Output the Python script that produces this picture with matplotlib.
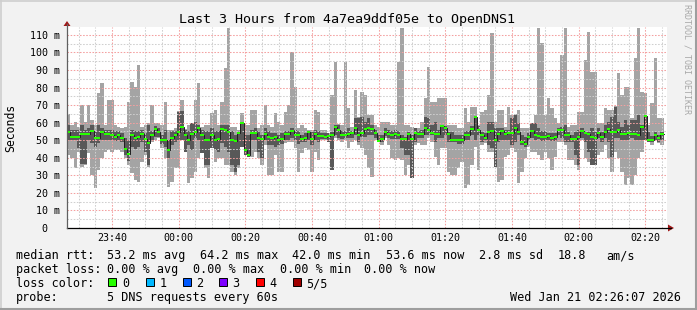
import numpy as np
import matplotlib.pyplot as plt
from matplotlib.patches import Rectangle, Polygon
from matplotlib.lines import Line2D

plt.rcParams['font.family'] = ['DejaVu Sans Mono']

# minutes relative to 00:00, first 60s step of the 3 hour window
t_start = -33.5

# five sorted pings per step (ms): min, 2nd, median, 4th, max
rtt_min = [
    41.6, 39.7, 34.0, 43.5, 35.0, 35.9, 42.5, 30.2, 22.6, 33.0,
    39.7, 43.5, 44.4, 43.5, 44.4, 44.4, 43.5, 39.7, 35.9, 31.1,
    27.4, 26.4, 37.8, 41.6, 34.9, 49.2, 50.1, 51.1, 45.4, 39.7,
    23.6, 26.4, 34.0, 34.0, 50.1, 43.5, 25.5, 28.3, 32.1, 39.7,
    42.5, 34.0, 28.3, 45.4, 37.8, 39.7, 39.7, 35.9, 35.9, 32.1,
    30.2, 34.0, 46.3, 41.6, 40.6, 40.6, 43.5, 39.7, 35.9, 47.3,
    30.2, 30.2, 41.6, 32.1, 32.1, 48.2, 49.2, 49.2, 45.4, 32.1,
    42.5, 45.4, 44.4, 32.1, 43.5, 38.7, 50.1, 50.1, 49.2, 33.0,
    51.1, 50.1, 49.2, 50.1, 45.4, 49.2, 50.1, 47.3, 45.4, 41.6,
    34.0, 29.2, 50.1, 49.2, 47.3, 51.1, 47.3, 39.7, 38.7, 39.7,
    38.7, 30.2, 35.9, 28.3, 47.3, 48.2, 47.3, 47.3, 51.1, 49.2,
    40.6, 35.9, 45.4, 45.4, 32.1, 30.2, 30.2, 34.0, 37.8, 22.6,
    24.5, 35.9, 46.3, 33.0, 47.3, 48.2, 43.5, 43.5, 34.9, 26.4,
    27.4, 40.6, 41.6, 45.4, 43.5, 25.5, 32.1, 39.7, 46.3, 43.5,
    43.5, 41.6, 38.7, 43.5, 39.7, 33.0, 40.6, 49.2, 49.2, 47.3,
    38.7, 38.7, 35.9, 33.0, 50.1, 39.7, 37.8, 35.9, 35.9, 41.6,
    43.5, 47.3, 39.7, 32.1, 43.5, 39.7, 32.1, 24.5, 28.3, 24.5,
    30.2, 39.7, 43.5, 50.1, 49.2, 47.3, 50.1, 48.2, 47.3,
]
rtt_lo = [
    50.0, 50.0, 50.0, 45.4, 36.5, 36.5, 50.0, 48.2, 46.0, 48.2,
    50.0, 50.0, 50.0, 50.0, 49.5, 50.0, 49.0, 41.6, 38.2, 46.0,
    45.0, 46.0, 49.0, 43.5, 35.9, 50.1, 52.0, 52.0, 48.0, 46.0,
    40.0, 47.3, 49.0, 50.1, 50.1, 43.5, 47.0, 44.4, 51.1, 50.1,
    42.5, 35.9, 35.9, 45.4, 44.4, 43.5, 48.2, 46.3, 43.5, 35.9,
    32.1, 35.9, 46.3, 41.6, 40.6, 50.0, 50.0, 43.5, 39.7, 50.0,
    47.3, 47.3, 46.3, 47.3, 48.0, 50.1, 50.1, 51.1, 50.1, 48.0,
    49.2, 49.0, 50.0, 47.3, 50.0, 49.0, 50.5, 50.5, 49.2, 33.0,
    53.0, 51.1, 50.5, 51.0, 51.1, 51.5, 53.0, 49.2, 52.0, 52.0,
    53.0, 53.0, 51.5, 49.2, 49.0, 52.5, 51.0, 50.5, 50.5, 50.5,
    45.4, 41.6, 41.6, 28.3, 49.2, 51.0, 51.0, 53.0, 53.0, 53.0,
    49.2, 51.5, 51.1, 53.0, 49.2, 49.2, 49.2, 48.0, 48.0, 50.0,
    50.0, 53.0, 50.1, 53.0, 49.2, 50.0, 47.3, 45.4, 34.9, 49.2,
    50.0, 50.0, 50.0, 47.3, 49.2, 53.0, 47.0, 46.0, 49.5, 51.1,
    50.1, 50.5, 49.5, 49.5, 50.1, 49.5, 49.5, 53.0, 51.1, 49.2,
    49.2, 49.2, 41.6, 35.9, 51.1, 49.2, 43.5, 35.9, 35.9, 51.1,
    49.2, 51.1, 49.2, 40.6, 51.1, 51.1, 50.1, 50.1, 50.1, 51.1,
    50.1, 50.1, 50.1, 50.1, 49.2, 49.2, 50.1, 49.2, 50.1,
]
rtt_median = [
    54.9, 52.0, 52.0, 51.9, 53.8, 53.8, 53.8, 55.3, 51.1, 51.5,
    54.9, 53.4, 53.4, 53.0, 52.0, 53.0, 51.5, 45.0, 42.4, 53.0,
    51.1, 51.9, 53.8, 50.7, 48.4, 53.0, 56.4, 54.5, 50.1, 50.1,
    44.6, 51.5, 53.0, 54.9, 57.7, 53.0, 50.3, 53.8, 54.5, 56.8,
    53.0, 50.3, 50.3, 53.0, 50.3, 50.9, 56.6, 56.0, 54.9, 50.3,
    49.6, 54.1, 60.0, 44.4, 41.6, 53.9, 54.1, 51.1, 50.7, 53.8,
    51.9, 51.5, 51.9, 50.1, 50.7, 53.8, 53.8, 55.3, 53.0, 53.0,
    50.7, 51.5, 54.9, 50.7, 53.8, 52.6, 52.6, 51.9, 52.6, 53.0,
    57.5, 56.0, 53.0, 53.0, 53.8, 54.1, 57.2, 53.0, 53.9, 56.2,
    56.8, 56.4, 53.9, 49.6, 50.7, 54.9, 53.8, 53.0, 53.4, 53.0,
    50.7, 50.5, 53.8, 50.7, 54.1, 53.8, 53.8, 57.2, 56.0, 54.1,
    53.8, 53.8, 58.3, 56.8, 53.8, 50.3, 50.3, 50.3, 50.3, 53.0,
    53.0, 56.4, 63.1, 56.0, 53.0, 51.5, 54.9, 55.3, 50.3, 53.8,
    55.3, 53.8, 53.9, 54.1, 57.0, 54.5, 49.2, 48.1, 51.7, 55.3,
    53.0, 52.6, 51.9, 51.9, 52.6, 51.5, 51.9, 55.6, 55.6, 53.0,
    53.0, 50.7, 50.7, 52.0, 55.3, 54.1, 53.8, 51.9, 51.5, 54.1,
    51.9, 54.9, 56.4, 54.5, 54.9, 55.6, 53.8, 53.4, 54.1, 53.4,
    53.8, 53.0, 57.5, 64.0, 50.1, 50.1, 53.0, 51.1, 53.8,
]
rtt_hi = [
    58.7, 56.0, 56.0, 56.0, 58.7, 56.0, 57.0, 58.7, 55.0, 58.7,
    57.0, 56.0, 56.0, 56.0, 55.0, 55.0, 54.0, 51.1, 50.0, 56.0,
    55.0, 55.0, 56.0, 54.0, 58.7, 55.0, 58.0, 57.0, 53.0, 56.0,
    50.0, 55.0, 55.5, 66.0, 66.7, 55.8, 55.0, 59.6, 60.6, 58.7,
    55.8, 55.0, 55.0, 56.8, 55.0, 55.0, 58.7, 58.7, 58.7, 55.0,
    53.0, 54.9, 60.6, 53.0, 53.0, 55.8, 57.0, 55.0, 53.0, 57.0,
    55.0, 54.0, 54.0, 53.0, 54.0, 55.0, 55.0, 56.8, 55.8, 55.0,
    53.0, 54.0, 55.5, 54.9, 56.0, 55.0, 54.0, 54.0, 53.9, 54.9,
    58.7, 58.7, 55.0, 55.0, 56.8, 55.5, 62.5, 62.5, 63.4, 60.6,
    62.5, 58.7, 55.8, 53.0, 53.0, 57.0, 56.0, 55.5, 56.0, 55.5,
    53.0, 52.0, 54.9, 53.0, 56.8, 55.5, 56.0, 63.4, 62.5, 58.7,
    60.6, 55.8, 58.7, 58.0, 54.9, 54.9, 53.0, 53.0, 53.0, 55.0,
    55.0, 58.0, 63.4, 58.0, 54.9, 54.0, 60.6, 60.6, 56.8, 56.8,
    57.0, 56.0, 56.0, 62.5, 64.4, 59.6, 53.0, 52.0, 54.0, 59.6,
    59.6, 56.8, 55.0, 55.0, 53.9, 54.0, 54.0, 56.8, 57.7, 58.7,
    54.9, 53.0, 54.9, 55.8, 56.8, 54.9, 54.9, 56.8, 54.9, 56.8,
    54.9, 58.7, 60.6, 63.4, 69.1, 60.6, 57.7, 61.5, 58.7, 61.5,
    61.5, 64.4, 58.7, 64.4, 54.9, 52.6, 54.9, 53.0, 54.9,
]
rtt_max = [
    64.8, 58.7, 60.6, 57.7, 70.1, 60.6, 70.1, 61.5, 58.7, 76.7,
    82.4, 58.7, 72.9, 72.9, 58.7, 57.7, 56.8, 57.7, 72.0, 83.4,
    80.5, 92.9, 57.7, 58.7, 59.6, 70.1, 59.6, 59.6, 58.7, 72.0,
    55.8, 55.8, 56.8, 66.7, 72.9, 56.5, 58.7, 60.0, 72.9, 82.4,
    57.7, 58.7, 58.7, 65.3, 67.2, 58.7, 72.0, 91.0, 113.8, 57.7,
    57.7, 55.8, 65.3, 58.7, 58.7, 67.2, 67.2, 56.8, 58.7, 70.1,
    58.7, 57.7, 65.3, 60.6, 58.7, 66.3, 70.1, 100.5, 80.5, 56.8,
    58.7, 56.8, 55.8, 55.8, 67.2, 66.3, 55.8, 55.8, 54.2, 75.8,
    94.8, 59.0, 58.7, 94.8, 68.2, 57.7, 78.6, 63.4, 77.7, 75.8,
    64.4, 64.4, 58.7, 57.7, 60.6, 60.6, 60.6, 58.7, 58.7, 94.8,
    113.8, 58.7, 58.7, 57.7, 57.0, 56.8, 60.6, 73.9, 91.9, 72.0,
    72.0, 73.9, 73.9, 73.9, 58.7, 58.7, 58.7, 56.8, 56.8, 68.2,
    60.6, 69.1, 69.1, 58.7, 66.3, 67.2, 75.8, 110.9, 60.6, 67.2,
    67.2, 57.7, 69.1, 64.4, 64.8, 67.2, 56.8, 56.8, 56.8, 60.0,
    64.4, 113.8, 105.2, 64.4, 73.9, 68.2, 62.5, 59.6, 98.6, 113.8,
    57.7, 58.7, 58.7, 66.3, 66.3, 95.7, 111.9, 89.1, 89.1, 59.6,
    59.6, 68.2, 67.2, 67.2, 69.5, 88.1, 75.8, 80.5, 80.5, 62.5,
    96.7, 113.8, 77.7, 76.7, 58.7, 71.0, 96.7, 62.5, 62.5,
]

hour_ticks = [-20, 0, 20, 40, 60, 80, 100, 120, 140]
hour_labels = ['23:40', '00:00', '00:20', '00:40', '01:00', '01:20', '01:40', '02:00', '02:20']
y_ticks = [0, 10, 20, 30, 40, 50, 60, 70, 80, 90, 100, 110]
y_labels = ['0  '] + [f'{v} m' for v in y_ticks[1:]]

loss_names = ['0', '1', '2', '3', '4', '5/5']
loss_colors = ['#26ff00', '#00b8ff', '#0059ff', '#7e00ff', '#ff0000', '#a00000']

W, H = 697, 310
fig = plt.figure(figsize=(W / 100, H / 100), dpi=100, facecolor='#f2f2f2')


def fx(px):
    return px / W


def fy(py):
    return 1 - py / H


ax = fig.add_axes([fx(67), fy(228), fx(667) - fx(67), fy(27) - fy(228)])
ax.set_facecolor('white')

n = len(rtt_median)
x = t_start + np.arange(n)
xs = np.append(x, x[-1] + 1)


def ext(v):
    v = np.asarray(v, dtype=float)
    return np.append(v, v[-1])


# smoke: outer pings light, inner pings dark
ax.fill_between(xs, ext(rtt_min), ext(rtt_max), step='post', color='#a4a4a4', lw=0, zorder=1)
ax.fill_between(xs, ext(rtt_lo), ext(rtt_hi), step='post', color='#585858', lw=0, zorder=1.1)
ax.step(xs, ext(rtt_median), where='post', color='#202020', lw=0.7, zorder=3)
med = np.asarray(rtt_median)
ax.bar(x, 1.1, bottom=med - 0.55, width=1, align='edge', color=loss_colors[0], lw=0, zorder=4)

ax.set_xlim(-33.5, 146.5)
ax.set_ylim(0, 114.5)
ax.set_xticks(hour_ticks)
ax.set_xticklabels(hour_labels, fontsize=7.2)
ax.set_xticks(np.arange(-30, 146, 5), minor=True)
ax.set_yticks(y_ticks)
ax.set_yticklabels(y_labels, fontsize=7.2)
ax.set_yticks(np.arange(5, 115, 5), minor=True)
ax.set_axisbelow(False)
ax.grid(which='minor', color='#cfcfcf', linestyle=(0, (1.5, 1.5)), lw=0.75)
ax.grid(which='major', color='#f4a0a0', linestyle=(0, (1.5, 1.5)), lw=0.75)
ax.tick_params(axis='x', which='both', length=0, pad=3.5)
ax.tick_params(axis='y', which='both', length=0, pad=5)
for s in ['top', 'right', 'bottom', 'left']:
    ax.spines[s].set_visible(False)

# axes with arrows
fig.add_artist(Line2D([fx(67), fx(671)], [fy(228), fy(228)], color='#000000', lw=0.9))
fig.add_artist(Line2D([fx(67), fx(67)], [fy(228), fy(24)], color='#606060', lw=0.9))
fig.add_artist(Polygon([[fx(63.5), fy(26)], [fx(70.5), fy(26)], [fx(67), fy(21)]],
                       closed=True, color='#a01818', lw=0))
fig.add_artist(Polygon([[fx(668), fy(224.5)], [fx(668), fy(231.5)], [fx(674), fy(228)]],
                       closed=True, color='#a01818', lw=0))

# frame shading
fig.add_artist(Line2D([0, 1], [fy(0.5), fy(0.5)], color='#cfcfcf', lw=1.2))
fig.add_artist(Line2D([fx(0.5), fx(0.5)], [0, 1], color='#cfcfcf', lw=1.2))
fig.add_artist(Line2D([0, 1], [fy(309), fy(309)], color='#9e9e9e', lw=1.5))
fig.add_artist(Line2D([fx(696), fx(696)], [0, 1], color='#9e9e9e', lw=1.5))

fig.text(fx(347), fy(19.3), 'Last 3 Hours from 4a7ea9ddf05e to OpenDNS1',
         ha='center', va='center', fontsize=9.6, color='#000000')
fig.text(fx(11), fy(127.5), 'Seconds', rotation=90, ha='center', va='center', fontsize=8.3)
fig.text(fx(687), fy(4), 'RRDTOOL / TOBI OETIKER', rotation=270, ha='center', va='top',
         fontsize=6, color='#a8a8a8')

fs = 8.5
row1, row2, row3, row4 = 254.3, 268.3, 282.3, 296.0
row1_items = [(16, 'median rtt:'), (107.3, '53.2 ms avg'), (200, '64.2 ms max'),
              (292.7, '42.0 ms min'), (386, '53.6 ms now'), (479.3, '2.8 ms sd'),
              (558.3, '18.8'), (606.7, 'am/s')]
row2_items = [(16, 'packet loss:'), (107.3, '0.00 % avg'), (193.7, '0.00 % max'),
              (280, '0.00 % min'), (365, '0.00 % now')]
for px, s in row1_items:
    fig.text(fx(px - 0.5), fy(row1), s, ha='left', va='center_baseline', fontsize=fs)
for px, s in row2_items:
    fig.text(fx(px - 0.5), fy(row2), s, ha='left', va='center_baseline', fontsize=fs)
fig.text(fx(15.5), fy(row3), 'loss color:', ha='left', va='center_baseline', fontsize=fs)

box_x = [108.3, 145.7, 182.7, 219, 256, 292.7]
for bx, name, col in zip(box_x, loss_names, loss_colors):
    fig.add_artist(Rectangle((fx(bx), fy(286)), fx(8), 8 / H, facecolor=col,
                             edgecolor='#000000', lw=0.7))
    fig.text(fx(bx + 13.5), fy(row3), name, ha='left', va='center_baseline', fontsize=fs)

fig.text(fx(15.5), fy(row4), 'probe:', ha='left', va='center_baseline', fontsize=fs)
fig.text(fx(106.8), fy(row4), '5 DNS requests every 60s', ha='left', va='center_baseline', fontsize=fs)
fig.text(fx(680.5), fy(row4), 'Wed Jan 21 02:26:07 2026', ha='right', va='center_baseline', fontsize=fs)

fig.savefig('out.png', dpi=100, facecolor=fig.get_facecolor())
